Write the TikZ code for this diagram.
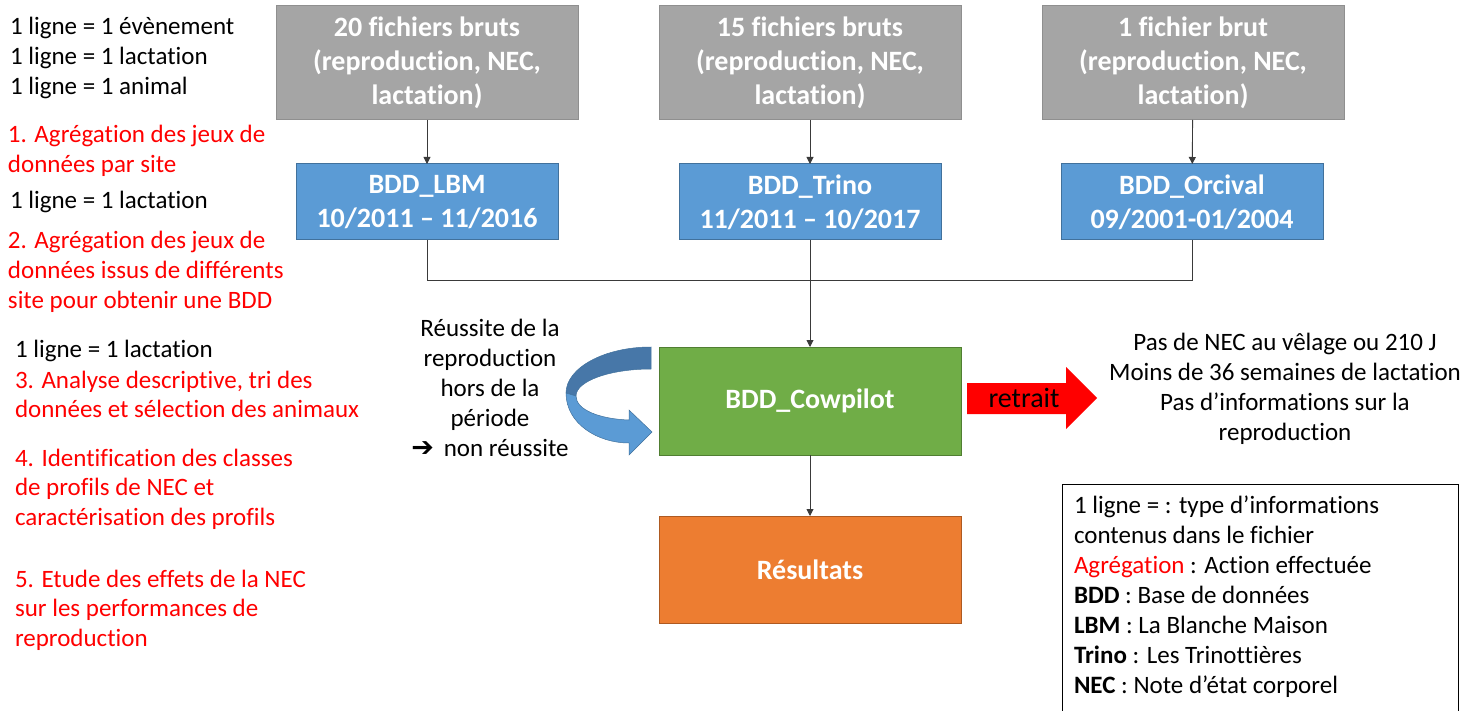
\documentclass[tikz,border=0pt]{standalone}
\usepackage{fontspec}
\setmainfont{Carlito}[Ligatures={TeX,NoCommon}]
\newfontfamily\symfont{DejaVu Sans}
\usetikzlibrary{arrows.meta}

\definecolor{rawfill}{HTML}{A5A5A5}
\definecolor{rawedge}{HTML}{8F8F8F}
\definecolor{sitefill}{HTML}{5B9BD5}
\definecolor{siteedge}{HTML}{41719C}
\definecolor{cowfill}{HTML}{70AD47}
\definecolor{cowedge}{HTML}{507E32}
\definecolor{resfill}{HTML}{ED7D31}
\definecolor{resedge}{HTML}{AE5A21}
\definecolor{stepred}{HTML}{FF0000}
\definecolor{linkcol}{HTML}{3A3A3A}
\definecolor{loopdark}{HTML}{4777A8}
\definecolor{looplight}{HTML}{5B9BD5}

\begin{document}
\begin{tikzpicture}[x=1pt,y=-1pt,
  txt/.style={font=\fontsize{25}{30}\selectfont, inner sep=0pt, outer sep=0pt, anchor=base west},
  redtxt/.style={txt, text=stepred},
  ctxt/.style={txt, anchor=base},
  box/.style={rectangle, inner sep=0pt, outer sep=0pt, line width=1pt, text=white,
    align=center, font=\fontsize{28}{34}\selectfont\bfseries},
  rawbox/.style={box, fill=rawfill, draw=rawedge, minimum width=302pt, minimum height=114pt},
  sitebox/.style={box, fill=sitefill, draw=siteedge, minimum width=262pt, minimum height=76pt},
  cowbox/.style={box, fill=cowfill, draw=cowedge, minimum width=302pt, minimum height=108pt},
  resbox/.style={box, fill=resfill, draw=resedge, minimum width=302pt, minimum height=107pt},
  link/.style={draw=linkcol, line width=0.9pt},
  flow/.style={link, -{Triangle[width=7pt,length=7pt]}},
]
\useasboundingbox (0,0) rectangle (1482,711);

% raw files per site
\node[rawbox] (raw1) at (427,63)  {20 fichiers bruts\\(reproduction, NEC,\\lactation)};
\node[rawbox] (raw2) at (810,63)  {15 fichiers bruts\\(reproduction, NEC,\\lactation)};
\node[rawbox] (raw3) at (1193,63) {1 fichier brut\\(reproduction, NEC,\\lactation)};

% site databases
\node[sitebox] (lbm)   at (427,202)  {BDD\_LBM\\10/2011 – 11/2016};
\node[sitebox] (trino) at (810,202)  {BDD\_Trino\\11/2011 – 10/2017};
\node[sitebox] (orc)   at (1192,202) {BDD\_Orcival\\09/2001-01/2004};

% merged database and results
\node[cowbox] (cow) at (810,401)   {BDD\_Cowpilot};
\node[resbox] (res) at (810,569.5) {Résultats};

% connectors
\draw[flow] (raw1) -- (lbm);
\draw[flow] (raw2) -- (trino);
\draw[flow] (raw3) -- (orc);
\coordinate (jl) at (427,280);
\coordinate (jr) at (1192,280);
\draw[link] (lbm.south) -- (jl) -- (jr) -- (orc.south);
\draw[flow] (trino.south) -- (cow.north);
\draw[flow] (cow.south) -- (res.north);

% curved loop arrow on the left of BDD_Cowpilot
\filldraw[fill=loopdark, draw=siteedge, line width=0.5pt]
  (651,347) .. controls (604,347) and (566,368) .. (566,393)
  -- (576,396) .. controls (576,381) and (610,369) .. (651,369) -- cycle;
\filldraw[fill=looplight, draw=siteedge, line width=0.5pt]
  (566,393) .. controls (566,424) and (598,443) .. (629,443)
  -- (629,455) -- (652,432) -- (629,410) -- (629,420)
  .. controls (600,419) and (576,410) .. (576,396) -- cycle;

\foreach \t [count=\i] in {R\'eussite de la, reproduction, hors de la, p\'eriode}
  \node[ctxt] (loop\i) at (490,306+30*\i) {\t};
\node[ctxt] (loop5) at (490,456) {{\symfont\fontsize{27}{30}\selectfont ➔}\, non réussite};

% removal arrow
\fill[stepred] (967,383) -- (1066,383) -- (1066,367) -- (1097,398)
  -- (1066,429) -- (1066,414) -- (967,414) -- cycle;
\node[txt, anchor=base, font=\fontsize{28}{34}\selectfont] (retrait) at (1024,407) {retrait};

\foreach \t [count=\i] in {Pas de NEC au vêlage ou 210 J, Moins de 36 semaines de lactation,
    Pas d’informations sur la, reproduction}
  \node[ctxt] (crit\i) at (1285,320+30*\i) {\t};

% left column: line types and processing steps
\foreach \t [count=\i] in {1 ligne = 1 évènement, 1 ligne = 1 lactation, 1 ligne = 1 animal}
  \node[txt] (typeA\i) at (10,5+30*\i) {\t};
\foreach \t [count=\i] in {1. Agrégation des jeux de, données par site}
  \node[redtxt] (stepA\i) at (8,113+30*\i) {\t};
\node[txt] (typeB) at (10,209) {1 ligne = 1 lactation};
\foreach \t [count=\i] in {2. Agrégation des jeux de, données issus de différents, site pour obtenir une BDD}
  \node[redtxt] (stepB\i) at (8,218+30*\i) {\t};
\node[txt] (typeC) at (15,357) {1 ligne = 1 lactation};
\foreach \t [count=\i] in {{3. Analyse descriptive, tri des}, données et sélection des animaux}
  \node[redtxt] (stepC\i) at (15,358.5+29.5*\i) {\t};
\foreach \t [count=\i] in {4. Identification des classes, de profils de NEC et, caractérisation des profils}
  \node[redtxt] (stepD\i) at (15,436.5+29.5*\i) {\t};
\foreach \t [count=\i] in {5. Etude des effets de la NEC, sur les performances de, reproduction}
  \node[redtxt] (stepE\i) at (15,557.5+29.5*\i) {\t};

% legend
\node[draw=black, line width=1pt, inner sep=0pt, minimum width=396pt, minimum height=240pt,
  anchor=north west] (legend) at (1062,484) {};
\node[txt] (leg1) at (1074,513) {1 ligne = : type d’informations};
\node[txt] (leg2) at (1074,543) {contenus dans le fichier};
\node[txt] (leg3) at (1074,573) {\textcolor{stepred}{Agrégation} : Action effectuée};
\node[txt] (leg4) at (1074,603) {\textbf{BDD} : Base de données};
\node[txt] (leg5) at (1074,633) {\textbf{LBM} : La Blanche Maison};
\node[txt] (leg6) at (1074,663) {\textbf{Trino} : Les Trinottières};
\node[txt] (leg7) at (1074,693) {\textbf{NEC} : Note d’état corporel};
\end{tikzpicture}
\end{document}
